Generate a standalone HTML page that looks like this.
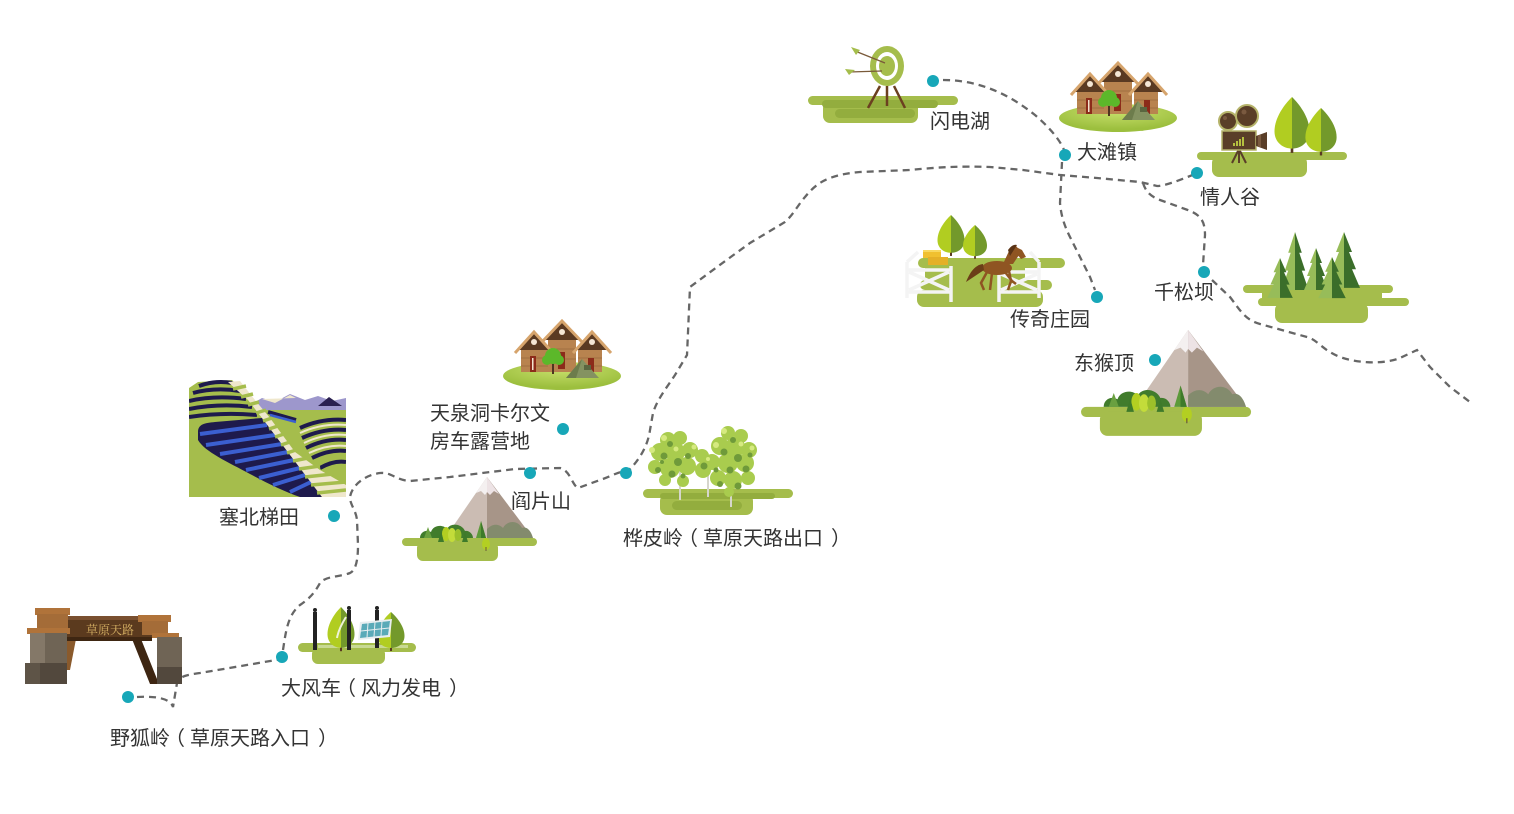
<!DOCTYPE html>
<html><head><meta charset="utf-8">
<style>
html,body{margin:0;padding:0;background:#fff;}
svg{display:block;}
.lbl{font-family:"Liberation Sans","Noto Sans CJK SC",sans-serif;font-size:20px;fill:#333;}
</style></head><body>
<svg width="1514" height="814" viewBox="0 0 1514 814" xmlns="http://www.w3.org/2000/svg">
<defs>
 <radialGradient id="gEll" cx="50%" cy="25%" r="65%">
  <stop offset="0" stop-color="#c8e06c"/><stop offset="1" stop-color="#9cbf3e"/>
 </radialGradient>
 <clipPath id="tc"><rect x="189" y="380" width="157" height="117"/></clipPath>

 <g id="houses">
  <ellipse cx="0" cy="55" rx="59" ry="14" fill="url(#gEll)"/>
  <rect x="-14" y="17" width="28" height="34" fill="#b8834f"/>
  <line x1="-14" y1="28" x2="14" y2="28" stroke="#a06f40" stroke-width="1"/>
  <line x1="-14" y1="38" x2="14" y2="38" stroke="#a06f40" stroke-width="1"/>
  <polygon points="-18,19 0,1 18,19" fill="#5a3a22"/>
  <polyline points="-21,22 0,0 21,22" fill="none" stroke="#d6a46c" stroke-width="3"/>
  <circle cx="0" cy="11" r="3" fill="#f4e6d4"/>
  <rect x="-4" y="31" width="7" height="17" fill="#8c2b1a"/>
  <rect x="-41" y="27" width="27" height="24" fill="#b8834f"/>
  <line x1="-41" y1="37" x2="-14" y2="37" stroke="#a06f40" stroke-width="1"/>
  <line x1="-41" y1="45" x2="-14" y2="45" stroke="#a06f40" stroke-width="1"/>
  <polygon points="-44,29 -28,12 -12,29" fill="#5a3a22"/>
  <polyline points="-47,32 -28,11 -9,32" fill="none" stroke="#d6a46c" stroke-width="3"/>
  <circle cx="-28" cy="21" r="3" fill="#f4e6d4"/>
  <rect x="-32" y="35" width="6" height="16" fill="#8c2b1a"/>
  <rect x="-30" y="37" width="1.5" height="12" fill="#f2e4d0"/>
  <rect x="16" y="27" width="24" height="24" fill="#b8834f"/>
  <line x1="16" y1="37" x2="40" y2="37" stroke="#a06f40" stroke-width="1"/>
  <line x1="16" y1="45" x2="40" y2="45" stroke="#a06f40" stroke-width="1"/>
  <polygon points="14,29 30,12 46,29" fill="#5a3a22"/>
  <polyline points="11,32 30,11 49,32" fill="none" stroke="#d6a46c" stroke-width="3"/>
  <circle cx="30" cy="21" r="3" fill="#f4e6d4"/>
  <rect x="26" y="37" width="6" height="14" fill="#8c2b1a"/>
  <line x1="-9" y1="38" x2="-9" y2="53" stroke="#4e3520" stroke-width="2"/>
  <circle cx="-9" cy="35" r="8" fill="#5cb82a"/>
  <circle cx="-15" cy="39" r="5" fill="#5cb82a"/>
  <circle cx="-3" cy="39" r="5" fill="#5cb82a"/>
  <polygon points="4,57 20,38 37,57" fill="#849261"/>
  <polygon points="4,57 20,38 14,57" fill="#6d7c4c"/>
  <rect x="22" y="44" width="7" height="5" fill="#5a6640"/>
 </g>

 <g id="mtn">
  <rect x="0" y="61" width="135" height="8" rx="4" fill="#a5bd4c"/>
  <rect x="15" y="65" width="81" height="19" rx="6" fill="#a5bd4c"/>
  <polygon points="85,0 43,61 85,61" fill="#cbbcb3"/>
  <polygon points="85,0 131,61 85,61" fill="#a79588"/>
  <polygon points="85,0 74,16 79,14 83,18 85,15" fill="#f4f0f0"/>
  <polygon points="85,0 97,17 92,14 88,18 85,15" fill="#ede3e5"/>
  <path d="M85,61 L85,52 C91,46 97,47 101,51 C105,43 116,43 120,51 C125,49 129,54 131,61 Z" fill="#838b6d"/>
  <path d="M18,61 C18,55 24,52 29,55 C31,48 41,47 45,52 C49,45 60,47 63,54 C67,53 71,57 71,61 Z" fill="#417c2c"/>
  <polygon points="22,61 26,50 30,61" fill="#6aa040"/>
  <polygon points="74,61 79,44 84,61" fill="#5d9a3a"/>
  <polygon points="79,61 79,44 84,61" fill="#3e7a2a"/>
  <ellipse cx="44" cy="57" rx="4" ry="7" fill="#b3cf22"/>
  <ellipse cx="50" cy="58" rx="4" ry="7" fill="#c3dc3a"/>
  <ellipse cx="56" cy="58" rx="3.5" ry="6" fill="#9cc02a"/>
  <polygon points="36,65 39,54 42,65" fill="#3e7a2a"/>
  <polygon points="60,65 63,55 66,65" fill="#3e7a2a"/>
  <ellipse cx="84" cy="67" rx="4" ry="6" fill="#b3cf22"/>
  <line x1="84" y1="70" x2="84" y2="74" stroke="#6b5a3a" stroke-width="1"/>
 </g>

 <g id="pine">
  <polygon points="0,0 -8,15 -5,15 -12,28 -8,28 -16,42 0,42" fill="#97bc59"/>
  <polygon points="0,0 8,15 5,15 12,28 8,28 16,42 0,42" fill="#3b6e2a"/>
 </g>

 <g id="leaf">
  <rect x="-1.5" y="56" width="3" height="9" fill="#5a3a22"/>
  <path d="M0,0 C-10,10 -20,25 -20,40 C-20,53 -10,60 0,60 Z" fill="#b1cd21"/>
  <path d="M0,0 C10,10 20,25 20,40 C20,53 10,60 0,60 Z" fill="#73992b"/>
 </g>
</defs>

<!-- route -->
<g fill="none" stroke="#666" stroke-width="2.3" stroke-dasharray="7 5" stroke-linecap="butt">
 <path d="M137,697 C155,696 170,698 173,707 L177,683 C180,676 186,675 200,673 L282,659"/>
 <path d="M283,650 C286,630 288,615 300,605 C312,597 316,590 320,583 C325,576 340,577 350,573 C356,570 358,560 358,545 L357,520 C356,510 350,505 350,497 C352,485 365,475 380,473 C392,472 395,480 410,481 L450,477 L515,469 L560,468 C570,470 572,485 578,488 L600,480 C615,475 620,470 626,473 C640,460 648,445 650,430 L653,413 C657,400 665,390 675,375 L687,355 L690,287 L717,267 L750,243 L785,222 C793,215 798,205 805,197 C815,185 825,175 860,172 L910,170 C940,167 960,166 990,167 L1023,170 L1060,175 L1097,178 L1140,182 L1157,186 C1165,186 1180,180 1195,174"/>
 <path d="M943,80 C980,80 1010,95 1035,115 C1050,128 1060,140 1064,150"/>
 <path d="M1062,162 L1060,203 C1061,215 1064,225 1070,237 L1090,277 L1095,290"/>
 <path d="M1143,183 C1146,192 1150,196 1160,200 L1185,209 C1200,214 1205,220 1205,235 L1203,265"/>
 <path d="M1212,280 L1230,297 C1240,310 1245,320 1260,324 L1307,337 C1318,340 1322,350 1340,357 C1360,364 1385,364 1400,358 L1417,350 L1430,367 L1450,387 L1470,402"/>
</g>

<!-- gate -->
<g>
 <polygon points="132,639 141,639 159,684 150,684" fill="#3e2612"/>
 <polygon points="66,639 76,639 70,670 63,670" fill="#8a5a2c"/>
 <rect x="64" y="616" width="88" height="25" fill="#5b3a1e"/>
 <rect x="64" y="616" width="88" height="4" fill="#7a5030"/>
 <rect x="64" y="637" width="88" height="4" fill="#3e2612"/>
 <text x="110" y="634" text-anchor="middle" style="font-family:'Liberation Serif','Noto Serif CJK SC',serif;font-size:12px;fill:#d9b466;">草原天路</text>
 <rect x="35" y="608" width="35" height="7" fill="#b0733a"/>
 <rect x="37" y="614" width="31" height="16" fill="#a46c38"/>
 <rect x="27" y="628" width="43" height="6" fill="#b0733a"/>
 <rect x="30" y="633" width="37" height="31" fill="#6f6455"/>
 <rect x="30" y="633" width="15" height="31" fill="#847868"/>
 <rect x="25" y="663" width="42" height="21" fill="#52483d"/>
 <rect x="25" y="663" width="15" height="21" fill="#5e5447"/>
 <rect x="138" y="615" width="33" height="7" fill="#b0733a"/>
 <rect x="142" y="621" width="26" height="14" fill="#a46c38"/>
 <rect x="152" y="633" width="27" height="5" fill="#b0733a"/>
 <rect x="157" y="637" width="25" height="30" fill="#6f6455"/>
 <rect x="157" y="667" width="25" height="17" fill="#52483d"/>
</g>

<!-- wind / solar -->
<g>
 <rect x="298" y="643" width="118" height="9" rx="4.5" fill="#a5bd4c"/>
 <rect x="312" y="648" width="73" height="16" rx="6" fill="#a5bd4c"/>
 <rect x="318" y="645" width="90" height="3" fill="#c8d993"/>
 <use href="#leaf" transform="translate(341,607) scale(0.675,0.68)"/>
 <use href="#leaf" transform="translate(391,612) scale(0.675,0.6)"/>
 <path d="M346,617 C341,625 338,632 337,638" stroke="#eef3d8" stroke-width="2" fill="none"/>
 <rect x="313" y="612" width="4" height="38" fill="#222"/>
 <circle cx="315" cy="610" r="2" fill="#222"/>
 <rect x="347" y="610" width="4" height="40" fill="#222"/>
 <circle cx="349" cy="608" r="2" fill="#222"/>
 <rect x="375" y="610" width="4" height="38" fill="#222"/>
 <circle cx="377" cy="608" r="2" fill="#222"/>
 <polygon points="360,622 392,619 390,637 358,640" fill="#e8eef0"/>
 <polygon points="362,624 390,621 388,635 360,638" fill="#5aaab8"/>
 <line x1="375" y1="622" x2="374" y2="637" stroke="#e8eef0" stroke-width="1"/>
 <line x1="382" y1="621" x2="381" y2="636" stroke="#e8eef0" stroke-width="1"/>
 <line x1="368" y1="623" x2="367" y2="638" stroke="#e8eef0" stroke-width="1"/>
 <line x1="361" y1="631" x2="389" y2="628" stroke="#e8eef0" stroke-width="1"/>
</g>

<!-- terraces -->
<g clip-path="url(#tc)">
 <polygon points="250,405 262,398 275,402 290,394 305,400 318,396 332,401 346,398 346,420 250,420" fill="#9d97cc"/>
 <polygon points="262,399 275,403 290,395 296,398" fill="#efe7cc"/>
 <polygon points="318,406 329,397 342,406" fill="#2a2050"/>
 <polygon points="189,388 198,382 232,380 250,398 262,410 300,410 346,410 346,497 189,497" fill="#a5bd4c"/>
 <g stroke="#1e1a4c" stroke-width="4" fill="none">
  <path d="M199,386 Q215,380 232,383"/>
  <path d="M193,393 Q215,387 240,391"/>
  <path d="M189,401 Q215,395 246,399"/>
  <path d="M189,409 Q220,403 252,407"/>
  <path d="M189,417 Q222,412 257,415"/>
  <path d="M300,428 Q322,418 346,420"/>
  <path d="M302,438 Q324,428 346,430"/>
  <path d="M306,448 Q326,438 346,440"/>
  <path d="M312,458 Q330,449 346,451"/>
  <path d="M320,468 Q334,460 346,462"/>
  <path d="M268,412 L296,420"/>
 </g>
 <g stroke="#efe7cc" stroke-width="2" fill="none">
  <path d="M300,433 Q322,423 346,425"/>
  <path d="M304,443 Q325,433 346,435"/>
  <path d="M309,453 Q328,444 346,446"/>
 </g>
 <line x1="270" y1="415" x2="296" y2="422" stroke="#3b5fd0" stroke-width="2.5"/>
 <path d="M198,432 C198,424 205,423 215,422 L262,418 L322,497 L300,497 C285,492 265,482 250,474 C228,462 205,452 198,440 Z" fill="#1e1a4c"/>
 <g stroke="#3b5fd0" stroke-width="4">
  <line x1="200" y1="434" x2="267" y2="425"/>
  <line x1="206" y1="445" x2="275" y2="435"/>
  <line x1="220" y1="454" x2="282" y2="444"/>
  <line x1="235" y1="462" x2="288" y2="452"/>
  <line x1="246" y1="470" x2="294" y2="460"/>
  <line x1="259" y1="478" x2="300" y2="468"/>
  <line x1="273" y1="485" x2="305" y2="475"/>
  <line x1="290" y1="492" x2="311" y2="482"/>
 </g>
 <polygon points="228,382 240,381 255,400 270,418 295,452 320,470 346,485 346,497 322,497 262,418 248,400" fill="#efe7cc"/>
 <g stroke="#a5bd4c" stroke-width="3.5">
  <line x1="233" y1="389" x2="246" y2="386"/>
  <line x1="241" y1="397" x2="253" y2="394"/>
  <line x1="248" y1="405" x2="259" y2="402"/>
  <line x1="256" y1="413" x2="266" y2="410"/>
  <line x1="263" y1="421" x2="272" y2="418"/>
  <line x1="269" y1="429" x2="278" y2="426"/>
  <line x1="275" y1="437" x2="284" y2="434"/>
  <line x1="281" y1="445" x2="290" y2="442"/>
  <line x1="287" y1="453" x2="296" y2="450"/>
  <line x1="293" y1="461" x2="308" y2="458"/>
  <line x1="299" y1="469" x2="320" y2="466"/>
  <line x1="305" y1="477" x2="333" y2="474"/>
  <line x1="311" y1="485" x2="346" y2="482"/>
  <line x1="317" y1="493" x2="346" y2="490"/>
 </g>
</g>

<!-- mountains -->
<use href="#mtn" transform="translate(402,477)"/>
<use href="#mtn" transform="translate(1081,330) scale(1.26)"/>

<!-- houses -->
<use href="#houses" transform="translate(562,321)"/>
<use href="#houses" transform="translate(1118,63)"/>

<!-- birch -->
<g>
 <rect x="643" y="489" width="150" height="9" rx="4.5" fill="#a5bd4c"/>
 <rect x="660" y="494" width="93" height="21" rx="7" fill="#a5bd4c"/>
 <rect x="660" y="493" width="115" height="6" rx="3" fill="#93ad3e"/>
 <rect x="672" y="501" width="70" height="9" rx="4.5" fill="#93ad3e"/>
 <g stroke="#d6d6cc" stroke-width="2">
  <line x1="680" y1="468" x2="680" y2="500"/>
  <line x1="708" y1="468" x2="708" y2="497"/>
  <line x1="731" y1="478" x2="731" y2="507"/>
 </g>
 <g fill="#a9cc4e">
  <circle cx="668" cy="440" r="8"/><circle cx="680" cy="438" r="7"/><circle cx="660" cy="452" r="9"/>
  <circle cx="675" cy="452" r="10"/><circle cx="690" cy="450" r="8"/><circle cx="655" cy="467" r="7"/>
  <circle cx="670" cy="468" r="10"/><circle cx="687" cy="466" r="9"/><circle cx="665" cy="480" r="6"/>
  <circle cx="683" cy="481" r="6"/><circle cx="702" cy="456" r="7"/><circle cx="703" cy="470" r="8"/>
  <circle cx="728" cy="433" r="7"/><circle cx="741" cy="436" r="7"/><circle cx="720" cy="446" r="9"/>
  <circle cx="735" cy="447" r="10"/><circle cx="749" cy="450" r="8"/><circle cx="712" cy="462" r="8"/>
  <circle cx="728" cy="463" r="10"/><circle cx="745" cy="463" r="9"/><circle cx="718" cy="478" r="8"/>
  <circle cx="733" cy="480" r="9"/><circle cx="748" cy="478" r="7"/><circle cx="729" cy="492" r="5"/>
 </g>
 <g fill="#6f9a3a">
  <circle cx="664" cy="456" r="3.5"/><circle cx="678" cy="462" r="4"/><circle cx="672" cy="474" r="3.5"/>
  <circle cx="688" cy="456" r="3"/><circle cx="658" cy="470" r="3"/><circle cx="704" cy="466" r="3.5"/>
  <circle cx="724" cy="452" r="3.5"/><circle cx="738" cy="458" r="4"/><circle cx="730" cy="470" r="3.5"/>
  <circle cx="746" cy="469" r="3.5"/><circle cx="720" cy="484" r="3"/><circle cx="738" cy="486" r="3.5"/>
  <circle cx="733" cy="440" r="3"/><circle cx="670" cy="444" r="3"/><circle cx="683" cy="476" r="2.5"/>
  <circle cx="716" cy="470" r="2.5"/><circle cx="750" cy="455" r="2.5"/><circle cx="662" cy="462" r="2"/>
 </g>
 <g fill="#d6ea80">
  <circle cx="664" cy="438" r="3"/><circle cx="724" cy="431" r="3"/><circle cx="652" cy="450" r="3"/>
  <circle cx="716" cy="445" r="3"/><circle cx="694" cy="447" r="2.5"/><circle cx="752" cy="448" r="2.5"/>
  <circle cx="676" cy="449" r="2.5"/><circle cx="741" cy="444" r="2.5"/><circle cx="708" cy="459" r="2"/>
 </g>
</g>

<!-- archery -->
<g>
 <rect x="808" y="96" width="150" height="9" rx="4.5" fill="#a5bd4c"/>
 <rect x="823" y="101" width="95" height="22" rx="7" fill="#a5bd4c"/>
 <rect x="822" y="100" width="116" height="8" rx="4" fill="#93ad3e"/>
 <rect x="835" y="109" width="80" height="9" rx="4.5" fill="#93ad3e"/>
 <g stroke="#6b4020" stroke-width="2.5">
  <line x1="880" y1="86" x2="868" y2="108"/>
  <line x1="887" y1="86" x2="887" y2="106"/>
  <line x1="894" y1="86" x2="905" y2="108"/>
 </g>
 <ellipse cx="887" cy="66" rx="17" ry="20" fill="#a5bd4c"/>
 <ellipse cx="887" cy="66" rx="11" ry="14" fill="#fff"/>
 <ellipse cx="887" cy="66" rx="8" ry="10" fill="#a5bd4c"/>
 <g stroke="#7a5a3a" stroke-width="1.3">
  <line x1="855" y1="51" x2="885" y2="63"/>
  <line x1="849" y1="72" x2="882" y2="71"/>
 </g>
 <polygon points="851,47 860,50 856,55" fill="#a5bd4c"/>
 <polygon points="845,69 855,70 849,75" fill="#a5bd4c"/>
</g>

<!-- camera -->
<g>
 <rect x="1197" y="152" width="150" height="8" rx="4" fill="#a5bd4c"/>
 <rect x="1212" y="156" width="95" height="21" rx="7" fill="#a5bd4c"/>
 <use href="#leaf" transform="translate(1292,97) scale(0.875,0.86)"/>
 <use href="#leaf" transform="translate(1321,108) scale(0.78,0.73)"/>
 <g stroke="#5a3e28" stroke-width="2">
  <line x1="1239" y1="149" x2="1232" y2="163"/>
  <line x1="1239" y1="149" x2="1239" y2="163"/>
  <line x1="1239" y1="149" x2="1246" y2="163"/>
 </g>
 <circle cx="1228" cy="121" r="9" fill="#5a3e28" stroke="#b5b36a" stroke-width="2"/>
 <circle cx="1247" cy="116" r="11" fill="#5a3e28" stroke="#b5b36a" stroke-width="2"/>
 <circle cx="1225" cy="118" r="2" fill="#7a5a40"/>
 <circle cx="1244" cy="112" r="2.5" fill="#7a5a40"/>
 <rect x="1222" y="131" width="34" height="19" fill="#5a3e28" stroke="#b5b36a" stroke-width="1.5"/>
 <polygon points="1256,136 1267,132 1267,150 1256,146" fill="#5a3e28"/>
 <rect x="1258" y="135" width="3" height="12" fill="#7a5a40"/>
 <g fill="#b5c040">
  <rect x="1233" y="143" width="2" height="3"/>
  <rect x="1236" y="141" width="2" height="5"/>
  <rect x="1239" y="139" width="2" height="7"/>
  <rect x="1242" y="137" width="2" height="9"/>
 </g>
</g>

<!-- horse farm -->
<g>
 <rect x="918" y="258" width="147" height="10" rx="5" fill="#a5bd4c"/>
 <rect x="920" y="280" width="132" height="10" rx="5" fill="#a5bd4c"/>
 <rect x="917" y="290" width="126" height="17" rx="7" fill="#a5bd4c"/>
 <rect x="925" y="262" width="100" height="34" fill="#a5bd4c"/>
 <use href="#leaf" transform="translate(951,215) scale(0.675,0.63)"/>
 <use href="#leaf" transform="translate(975,225) scale(0.6,0.52)"/>
 <rect x="923" y="250" width="18" height="8" fill="#f0c030"/>
 <rect x="928" y="257" width="20" height="8" fill="#e4b028"/>
 <rect x="923" y="250" width="18" height="2" fill="#f8d860"/>
 <g stroke="#f4f4f4" stroke-width="3.5" fill="none">
  <line x1="907" y1="262" x2="907" y2="298"/>
  <line x1="951" y1="266" x2="951" y2="302"/>
  <line x1="907" y1="270" x2="951" y2="270"/>
  <line x1="907" y1="292" x2="951" y2="292"/>
  <line x1="909" y1="272" x2="949" y2="290"/>
  <line x1="949" y1="272" x2="909" y2="290"/>
  <line x1="907" y1="262" x2="918" y2="252"/>
  <line x1="999" y1="265" x2="999" y2="302"/>
  <line x1="1039" y1="262" x2="1039" y2="298"/>
  <line x1="999" y1="272" x2="1039" y2="272"/>
  <line x1="999" y1="292" x2="1039" y2="292"/>
  <line x1="1001" y1="274" x2="1037" y2="290"/>
  <line x1="1037" y1="274" x2="1001" y2="290"/>
  <line x1="1039" y1="262" x2="1030" y2="252"/>
 </g>
 <g fill="#8f5522" stroke="#8f5522">
  <ellipse cx="997" cy="268" rx="15" ry="7" stroke="none"/>
  <polygon points="1003,264 1009,251 1016,246 1021,252 1013,264" stroke="none"/>
  <polygon points="1014,246 1022,250 1026,257 1021,259 1016,253" stroke="none"/>
  <path d="M983,264 C975,265 970,272 966,282 C972,278 978,274 984,270 Z" stroke="none" fill="#6b3e18"/>
  <polyline points="987,272 981,283 984,290" fill="none" stroke-width="2.5"/>
  <polyline points="992,273 990,290" fill="none" stroke-width="2.5"/>
  <polyline points="1005,272 1012,281 1016,284" fill="none" stroke-width="2.5"/>
  <polyline points="1009,271 1011,281 1008,290" fill="none" stroke-width="2.5"/>
 </g>
 <path d="M1008,250 C1011,246 1014,244 1017,245 L1010,256 Z" fill="#5a3315"/>
</g>

<!-- pines -->
<g>
 <rect x="1243" y="285" width="150" height="8" rx="4" fill="#a5bd4c"/>
 <rect x="1258" y="298" width="151" height="8" rx="4" fill="#a5bd4c"/>
 <rect x="1262" y="289" width="120" height="14" fill="#a5bd4c"/>
 <rect x="1275" y="303" width="93" height="20" rx="7" fill="#a5bd4c"/>
 <use href="#pine" transform="translate(1295,232) scale(0.85,1.38)"/>
 <use href="#pine" transform="translate(1344,232) scale(1.0,1.33)"/>
 <use href="#pine" transform="translate(1316,248) scale(0.75,1.0)"/>
 <use href="#pine" transform="translate(1280,258) scale(0.8,0.95)"/>
 <use href="#pine" transform="translate(1332,257) scale(0.86,0.98)"/>
</g>

<!-- dots -->
<g fill="#17a7b8">
 <circle cx="128" cy="697" r="6"/>
 <circle cx="282" cy="657" r="6"/>
 <circle cx="334" cy="516" r="6"/>
 <circle cx="530" cy="473" r="6"/>
 <circle cx="563" cy="429" r="6"/>
 <circle cx="626" cy="473" r="6"/>
 <circle cx="933" cy="81" r="6"/>
 <circle cx="1065" cy="155" r="6"/>
 <circle cx="1197" cy="173" r="6"/>
 <circle cx="1204" cy="272" r="6"/>
 <circle cx="1097" cy="297" r="6"/>
 <circle cx="1155" cy="360" r="6"/>
</g>

<!-- labels -->
<text class="lbl" x="110 130 150 165 190 210 230 250 270 290 318" y="745">野狐岭（草原天路入口）</text>
<text class="lbl" x="281 301 321 336 361 381 401 421 449" y="695">大风车（风力发电）</text>
<text class="lbl" x="219" y="524">塞北梯田</text>
<text class="lbl" x="430" y="420">天泉洞卡尔文</text>
<text class="lbl" x="430" y="448">房车露营地</text>
<text class="lbl" x="511" y="508">阎片山</text>
<text class="lbl" x="623 643 663 678 703 723 743 763 783 803 831" y="545">桦皮岭（草原天路出口）</text>
<text class="lbl" x="930" y="128">闪电湖</text>
<text class="lbl" x="1077" y="159">大滩镇</text>
<text class="lbl" x="1200" y="204">情人谷</text>
<text class="lbl" x="1154" y="299">千松坝</text>
<text class="lbl" x="1010" y="326">传奇庄园</text>
<text class="lbl" x="1074" y="370">东猴顶</text>
</svg>
</body></html>
